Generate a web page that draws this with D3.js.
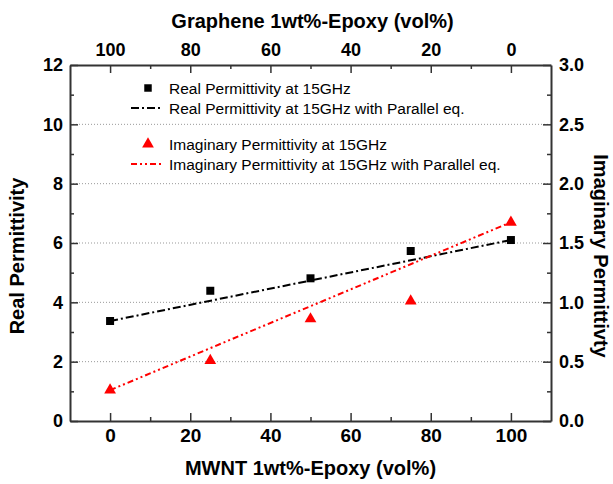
<!DOCTYPE html>
<html lang="en">
	<head>
		<meta charset="utf-8">
		<title>D3: Permittivity vs volume fraction</title>
		<style type="text/css">
			body { margin: 0; background: #fff; }
			text { font-family: "Liberation Sans", Arial, sans-serif; }
		</style>
	</head>
	<body>
		<script src="https://cdn.jsdelivr.net/npm/d3@7"></script>
		<script>
			//Data
			var mwnt = [0, 25, 50, 75, 100];
			var realPerm = [3.37, 4.39, 4.81, 5.73, 6.10];
			var imagPerm = [0.26, 0.51, 0.86, 1.01, 1.675];
			var fitX = [0, 100];
			var realFit = [3.37, 6.10];
			var imagFit = [0.26, 1.675];
			var bottomTicks = [0, 20, 40, 60, 80, 100];
			var topTicks = [100, 80, 60, 40, 20, 0];
			var leftTicks = [0, 2, 4, 6, 8, 10, 12];
			var rightTicks = [0, 0.5, 1, 1.5, 2, 2.5, 3];
			var gridTicks = [2, 4, 6, 8, 10];
			var legendLabels = ["Real Permittivity at 15GHz",
								"Real Permittivity at 15GHz with Parallel eq.",
								"Imaginary Permittivity at 15GHz",
								"Imaginary Permittivity at 15GHz with Parallel eq."];

			//Width and height
			var w = 613;
			var h = 484;
			var pL = 70, pR = 551, pT = 65, pB = 421;

			var xScale = d3.scaleLinear().domain([-10, 110]).range([pL, pR]);
			var xTop = d3.scaleLinear().domain([110, -10]).range([pL, pR]);
			var yScale = d3.scaleLinear().domain([0, 12]).range([pB, pT]);
			var yRight = d3.scaleLinear().domain([0, 3]).range([pB, pT]);

			var svg = d3.select("body")
						.append("svg")
						.attr("width", w)
						.attr("height", h);

			//Grid lines
			svg.selectAll("line.grid")
			   .data(gridTicks)
			   .enter()
			   .append("line")
			   .attr("class", "grid")
			   .attr("x1", pL)
			   .attr("x2", pR)
			   .attr("y1", function(d) { return yScale(d); })
			   .attr("y2", function(d) { return yScale(d); })
			   .attr("stroke", "#999")
			   .attr("stroke-width", 1)
			   .attr("stroke-dasharray", "1,2");

			function styleAxis(g, size) {
				g.selectAll(".domain").attr("stroke", "#333").attr("stroke-width", 2);
				g.selectAll(".tick line").attr("stroke", "#333").attr("stroke-width", 1.5);
				g.selectAll("text")
				 .attr("font-size", size + "px")
				 .attr("font-weight", "bold")
				 .attr("fill", "#000");
			}

			//Minor ticks
			function minor(axis, scale, vals, transform) {
				svg.append("g")
				   .attr("transform", transform)
				   .call(axis(scale).tickValues(vals).tickFormat("").tickSize(-4).tickSizeOuter(0))
				   .call(function(g) {
				   		g.select(".domain").remove();
				   		g.selectAll(".tick line").attr("stroke", "#333").attr("stroke-width", 1.5);
				   });
			}
			minor(d3.axisBottom, xScale, [10, 30, 50, 70, 90], "translate(0," + pB + ")");
			minor(d3.axisTop, xTop, [90, 70, 50, 30, 10], "translate(0," + pT + ")");
			minor(d3.axisLeft, yScale, [1, 3, 5, 7, 9, 11], "translate(" + pL + ",0)");
			minor(d3.axisRight, yRight, [0.25, 0.75, 1.25, 1.75, 2.25, 2.75], "translate(" + pR + ",0)");

			//Major axes
			svg.append("g")
			   .attr("transform", "translate(0," + pB + ")")
			   .call(d3.axisBottom(xScale).tickValues(bottomTicks).tickSize(-8).tickSizeOuter(0).tickPadding(8))
			   .call(styleAxis, 19);
			svg.append("g")
			   .attr("transform", "translate(0," + pT + ")")
			   .call(d3.axisTop(xTop).tickValues(topTicks).tickSize(-8).tickSizeOuter(0).tickPadding(9))
			   .call(styleAxis, 18);
			svg.append("g")
			   .attr("transform", "translate(" + pL + ",0)")
			   .call(d3.axisLeft(yScale).tickValues(leftTicks).tickSize(-8).tickSizeOuter(0).tickPadding(7))
			   .call(styleAxis, 18);
			svg.append("g")
			   .attr("transform", "translate(" + pR + ",0)")
			   .call(d3.axisRight(yRight).tickValues(rightTicks).tickFormat(d3.format(".1f")).tickSize(-8).tickSizeOuter(0).tickPadding(8))
			   .call(styleAxis, 18);

			//Axis titles
			svg.append("text")
			   .text("MWNT 1wt%-Epoxy (vol%)")
			   .attr("x", (pL + pR) / 2)
			   .attr("y", 475)
			   .attr("text-anchor", "middle")
			   .attr("font-size", "20px")
			   .attr("font-weight", "bold");
			svg.append("text")
			   .text("Graphene 1wt%-Epoxy (vol%)")
			   .attr("x", (pL + pR) / 2 + 2)
			   .attr("y", 28)
			   .attr("text-anchor", "middle")
			   .attr("font-size", "20px")
			   .attr("font-weight", "bold");
			svg.append("text")
			   .text("Real Permittivity")
			   .attr("transform", "translate(24,256) rotate(-90)")
			   .attr("text-anchor", "middle")
			   .attr("font-size", "20px")
			   .attr("font-weight", "bold");
			svg.append("text")
			   .text("Imaginary Permittivty")
			   .attr("transform", "translate(594,256) rotate(90)")
			   .attr("text-anchor", "middle")
			   .attr("font-size", "20px")
			   .attr("font-weight", "bold");

			//Fit lines
			var realLine = d3.line()
							.x(function(d, i) { return xScale(fitX[i]); })
							.y(function(d) { return yScale(d); });
			var imagLine = d3.line()
							.x(function(d, i) { return xScale(fitX[i]); })
							.y(function(d) { return yRight(d); });
			svg.append("path")
			   .attr("d", realLine(realFit))
			   .attr("fill", "none")
			   .attr("stroke", "#000")
			   .attr("stroke-width", 2)
			   .attr("stroke-dasharray", "8,3,2,3");
			svg.append("path")
			   .attr("d", imagLine(imagFit))
			   .attr("fill", "none")
			   .attr("stroke", "#ff0000")
			   .attr("stroke-width", 2)
			   .attr("stroke-dasharray", "6,3,2,3,2,3");

			//Markers
			svg.selectAll("path.real")
			   .data(realPerm)
			   .enter()
			   .append("path")
			   .attr("class", "real")
			   .attr("d", d3.symbol().type(d3.symbolSquare).size(64))
			   .attr("transform", function(d, i) {
			   		return "translate(" + xScale(mwnt[i]) + "," + yScale(d) + ")";
			   })
			   .attr("fill", "#000");
			svg.selectAll("path.imag")
			   .data(imagPerm)
			   .enter()
			   .append("path")
			   .attr("class", "imag")
			   .attr("d", d3.symbol().type(d3.symbolTriangle).size(60))
			   .attr("transform", function(d, i) {
			   		return "translate(" + xScale(mwnt[i]) + "," + yRight(d) + ")";
			   })
			   .attr("fill", "#ff0000");

			//Legend
			var legendY = [88, 108, 144, 164];
			var lg = svg.append("g");
			lg.append("path")
			  .attr("d", d3.symbol().type(d3.symbolSquare).size(56))
			  .attr("transform", "translate(148," + legendY[0] + ")")
			  .attr("fill", "#000");
			lg.append("line")
			  .attr("x1", 131).attr("x2", 161)
			  .attr("y1", legendY[1]).attr("y2", legendY[1])
			  .attr("stroke", "#000").attr("stroke-width", 2)
			  .attr("stroke-dasharray", "8,3,2,3");
			lg.append("path")
			  .attr("d", d3.symbol().type(d3.symbolTriangle).size(60))
			  .attr("transform", "translate(148," + legendY[2] + ")")
			  .attr("fill", "#ff0000");
			lg.append("line")
			  .attr("x1", 131).attr("x2", 161)
			  .attr("y1", legendY[3]).attr("y2", legendY[3])
			  .attr("stroke", "#ff0000").attr("stroke-width", 2)
			  .attr("stroke-dasharray", "6,3,2,3,2,3");
			lg.selectAll("text")
			  .data(legendLabels)
			  .enter()
			  .append("text")
			  .text(function(d) { return d; })
			  .attr("x", 169)
			  .attr("y", function(d, i) { return legendY[i] + 5.5; })
			  .attr("font-size", "15.5px")
			  .attr("fill", "#000");
		</script>
	</body>
</html>
